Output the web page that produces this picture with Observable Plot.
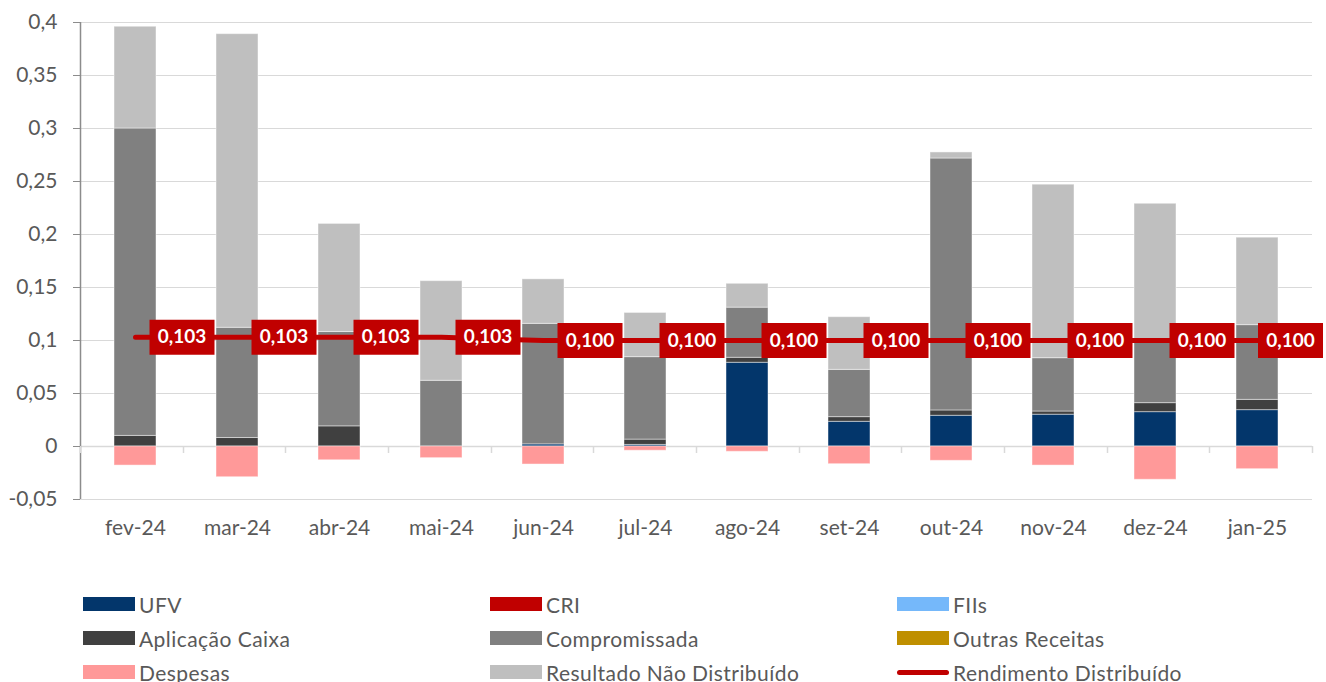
<!DOCTYPE html>
<html>
<head>
<meta charset="utf-8">
<script src="https://cdn.jsdelivr.net/npm/d3@7"></script>
<script src="https://cdn.jsdelivr.net/npm/@observablehq/plot@0.6"></script>
<style>
  html, body { margin: 0; padding: 0; background: #fff; }
  body { width: 1326px; height: 682px; overflow: hidden; font-family: Lato, "Open Sans", sans-serif; }
  #chart svg { display: block; }
  #legend { position: absolute; left: 83px; top: 587px; display: grid; grid-template-columns: 407px 407px 407px; grid-auto-rows: 34px; }
  .item { display: flex; align-items: center; font-size: 21px; letter-spacing: 0.45px; color: #595959; white-space: nowrap; }
  .sw { width: 52px; height: 14px; margin-right: 4px; flex: none; }
  .ln { width: 52px; height: 5px; border-radius: 3px; margin-right: 4px; flex: none; }
</style>
</head>
<body>
<div id="chart"></div>
<div id="legend"></div>
<script>
// ---- data ----
const months = ["fev-24","mar-24","abr-24","mai-24","jun-24","jul-24","ago-24","set-24","out-24","nov-24","dez-24","jan-25"];
const ufv           = [0, 0, 0, 0, 0.002, 0.0015, 0.079, 0.0233, 0.029, 0.030, 0.0324, 0.0343];
const cri           = [0, 0, 0, 0, 0, 0, 0, 0, 0, 0, 0, 0];
const fiis          = [0, 0, 0, 0, 0, 0, 0, 0, 0, 0, 0, 0];
const aplicacaoCaixa= [0.010, 0.008, 0.019, 0, 0, 0.005, 0.0047, 0.0044, 0.005, 0.003, 0.0085, 0.0097];
const compromissada = [0.290, 0.104, 0.089, 0.062, 0.1137, 0.0778, 0.0473, 0.0446, 0.2377, 0.0503, 0.0581, 0.0705];
const outrasReceitas= [0, 0, 0, 0, 0, 0, 0, 0, 0, 0, 0, 0];
const despesas      = [-0.018, -0.029, -0.013, -0.011, -0.017, -0.004, -0.005, -0.0167, -0.0135, -0.018, -0.0314, -0.0214];
const resultadoND   = [0.096, 0.277, 0.102, 0.094, 0.042, 0.0417, 0.0225, 0.0497, 0.0057, 0.1637, 0.130, 0.0825];
const rendimento    = [0.103, 0.103, 0.103, 0.103, 0.100, 0.100, 0.100, 0.100, 0.100, 0.100, 0.100, 0.100];
const yTicks = [-0.05, 0, 0.05, 0.1, 0.15, 0.2, 0.25, 0.3, 0.35, 0.4];

const seriesNames  = ["UFV","CRI","FIIs","Aplicação Caixa","Compromissada","Outras Receitas","Despesas","Resultado Não Distribuído"];
const seriesValues = [ufv, cri, fiis, aplicacaoCaixa, compromissada, outrasReceitas, despesas, resultadoND];
const seriesColors = ["#03366b","#c00000","#75b8fa","#404040","#808080","#bf8f00","#ff9999","#bfbfbf"];
const lineName = "Rendimento Distribuído";
const lineColor = "#c00000";

// ---- tables ----
const barData = [];
seriesNames.forEach((s, si) => months.forEach((m, i) => barData.push({month: m, series: s, value: seriesValues[si][i]})));
const lineData = months.map((m, i) => ({month: m, value: rendimento[i]}));
const labelsMain = lineData.slice(0, -1);
const labelsLast = lineData.slice(-1);

const fmt = d => String(d).replace(".", ",");
const fmt3 = d => d.value.toFixed(3).replace(".", ",");
const W = 1326, H = 560, ML = 80, MR = 14, MT = 22, MB = 61;
const step = (W - ML - MR) / months.length;

const labelBox = { draw(ctx) { ctx.rect(-32.5, -17.5, 65, 35); } };

function decorations(index, scales, values, dims) {
  const g = d3.create("svg:g");
  const y = scales.y;
  g.append("line").attr("x1", dims.marginLeft + 0.5).attr("x2", dims.marginLeft + 0.5)
    .attr("y1", y(0.4)).attr("y2", y(-0.05)).attr("stroke", "#8c8c8c").attr("stroke-width", 1.5);
  const x0 = dims.marginLeft;
  for (let i = 0; i <= months.length; i++) {
    const xx = Math.round(x0 + i * step) + 0.5;
    g.append("line").attr("x1", xx).attr("x2", xx).attr("y1", y(0)).attr("y2", y(0) + 7)
      .attr("stroke", "#d9d9d9").attr("stroke-width", 1.5);
  }
  return g.node();
}

const labelMarks = (data, dx) => [
  Plot.dot(data, {x: "month", y: "value", symbol: labelBox, fill: lineColor, stroke: "none", dx}),
  Plot.text(data, {x: "month", y: "value", text: fmt3, dx, fill: "white", fontWeight: "bold", fontSize: 19})
];

const chart = Plot.plot({
  width: W, height: H,
  marginLeft: ML, marginRight: MR, marginTop: MT, marginBottom: MB,
  style: {fontFamily: "Lato, sans-serif", fontSize: "21px", color: "#595959", background: "white"},
  x: {domain: months, paddingInner: 0.59, paddingOuter: 0.295, label: null},
  y: {domain: [-0.05, 0.4], label: null},
  color: {domain: seriesNames, range: seriesColors},
  marks: [
    Plot.gridY(yTicks, {stroke: "#d9d9d9", strokeOpacity: 1, strokeWidth: 1}),
    Plot.ruleY([0], {stroke: "#d9d9d9", strokeWidth: 1.5}),
    Plot.barY(barData, {x: "month", y: "value", fill: "series", order: seriesNames, stroke: "white", strokeOpacity: 0.45, strokeWidth: 1}),
    decorations,
    Plot.axisY(yTicks, {tickFormat: fmt, tickSize: 7, tickPadding: 16, stroke: "#8c8c8c", fill: "#595959", fontSize: 21}),
    Plot.axisX({tickSize: 0, tickPadding: 21, fill: "#595959", fontSize: 21}),
    Plot.line(lineData, {x: "month", y: "value", stroke: lineColor, strokeWidth: 5, strokeLinecap: "round"}),
    ...labelMarks(labelsMain, 46.5),
    ...labelMarks(labelsLast, 33)
  ]
});
document.getElementById("chart").appendChild(chart);

// ---- legend ----
const legend = document.getElementById("legend");
const legendOrder = [...seriesNames, lineName];
legendOrder.forEach(name => {
  const item = document.createElement("div");
  item.className = "item";
  const sw = document.createElement("span");
  if (name === lineName) { sw.className = "ln"; sw.style.background = lineColor; }
  else { sw.className = "sw"; sw.style.background = seriesColors[seriesNames.indexOf(name)]; }
  item.appendChild(sw);
  item.appendChild(document.createTextNode(name));
  legend.appendChild(item);
});
</script>
</body>
</html>
